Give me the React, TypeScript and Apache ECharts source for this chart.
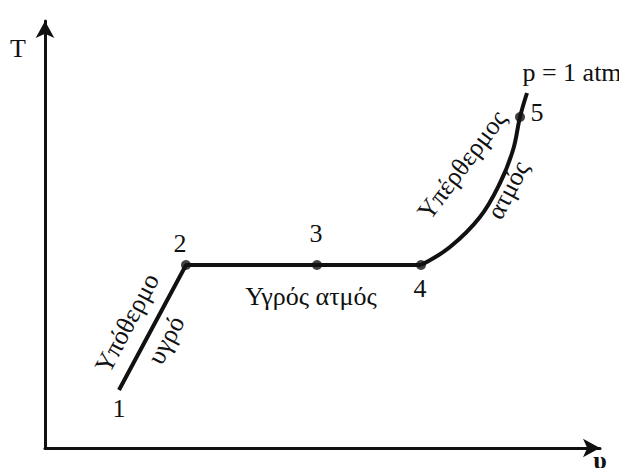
import React, { useEffect, useRef } from "react";
import * as echarts from "echarts";

// State points (specific volume υ, temperature T) in arbitrary schematic units
const pointNames = ["1", "2", "3", "4", "5"];
const pointV = [74, 141, 272, 376, 475];
const pointT = [58, 183, 183, 183, 331];

// Superheated-vapour curve from point 4 through 5 to its end
const curveV = [376, 405, 435, 455, 468, 475, 482];
const curveT = [183, 201, 231, 265, 298, 331, 355];

// Region annotations
const annoTexts = ["Υπόθερμο", "υγρό", "Υγρός ατμός", "Υπέρθερμος", "ατμός", "p = 1 atm"];
const annoV = [82, 121, 266, 417, 463, 527];
const annoT = [125, 108, 152, 283, 258, 376];
const annoRotate = [62, 62, 0, 53, 62, 0];

// Label offsets (pixels) for the numbered points
const pointLabelOffsets = [
  [0, 18],
  [-6, -22],
  [-1, -32],
  [-1, 23],
  [17, -5],
];

const FONT = "Liberation Serif";
const FS = 26;

export default function App() {
  const ref = useRef<HTMLDivElement>(null);
  useEffect(() => {
    if (!ref.current) return;
    const chart = echarts.init(ref.current, null, { renderer: "svg" });
    const straight = pointV.slice(0, 4).map((v, i) => [v, pointT[i]]);
    const curve = curveV.map((v, i) => [v, curveT[i]]);
    const markers = pointV.slice(1).map((v, i) => [v, pointT[i + 1]]);
    const axisCommon = {
      type: "value",
      min: 0,
      axisLine: {
        show: true,
        symbol: ["none", "arrow"],
        symbolSize: [14, 17],
        lineStyle: { color: "#111", width: 3 },
      },
      axisTick: { show: false },
      axisLabel: { show: false },
      splitLine: { show: false },
    };
    chart.setOption({
      animation: false,
      backgroundColor: "#fff",
      textStyle: { fontFamily: FONT },
      grid: { left: 45, right: 27, top: 21, bottom: 28 },
      xAxis: { ...axisCommon, max: 555 },
      yAxis: { ...axisCommon, max: 427 },
      series: [
        {
          type: "line",
          data: straight,
          symbol: "none",
          lineStyle: { color: "#111", width: 4 },
          z: 2,
        },
        {
          type: "line",
          data: curve,
          smooth: 0.4,
          symbol: "none",
          lineStyle: { color: "#111", width: 4 },
          z: 2,
        },
        {
          type: "scatter",
          data: markers,
          symbol: "circle",
          symbolSize: 10,
          itemStyle: { color: "#111" },
          z: 3,
        },
      ],
    });

    const toPx = (v: number, t: number) =>
      chart.convertToPixel({ gridIndex: 0 }, [v, t]) as number[];
    const textEl = (text: string, x: number, y: number, deg: number, extra: any = {}) => ({
      type: "text",
      x,
      y,
      rotation: (deg * Math.PI) / 180,
      z: 10,
      style: {
        text,
        fontSize: FS,
        fontFamily: FONT,
        fill: "#111",
        align: "center",
        verticalAlign: "middle",
        textAlign: "center",
        textVerticalAlign: "middle",
        ...extra,
      },
    });
    const graphics: any[] = [];
    pointNames.forEach((n, i) => {
      const [px, py] = toPx(pointV[i], pointT[i]);
      graphics.push(textEl(n, px + pointLabelOffsets[i][0], py + pointLabelOffsets[i][1], 0));
    });
    annoTexts.forEach((t, i) => {
      const [px, py] = toPx(annoV[i], annoT[i]);
      graphics.push(textEl(t, px, py, annoRotate[i]));
    });
    graphics.push(textEl("T", 18, 48, 0));
    graphics.push(textEl("υ", 600, 460, 0, { fontSize: 26, fontWeight: "bold" }));
    chart.setOption({ graphic: graphics });
    return () => chart.dispose();
  }, []);
  return <div ref={ref} style={{ width: 627, height: 476, margin: -8 }} />;
}
